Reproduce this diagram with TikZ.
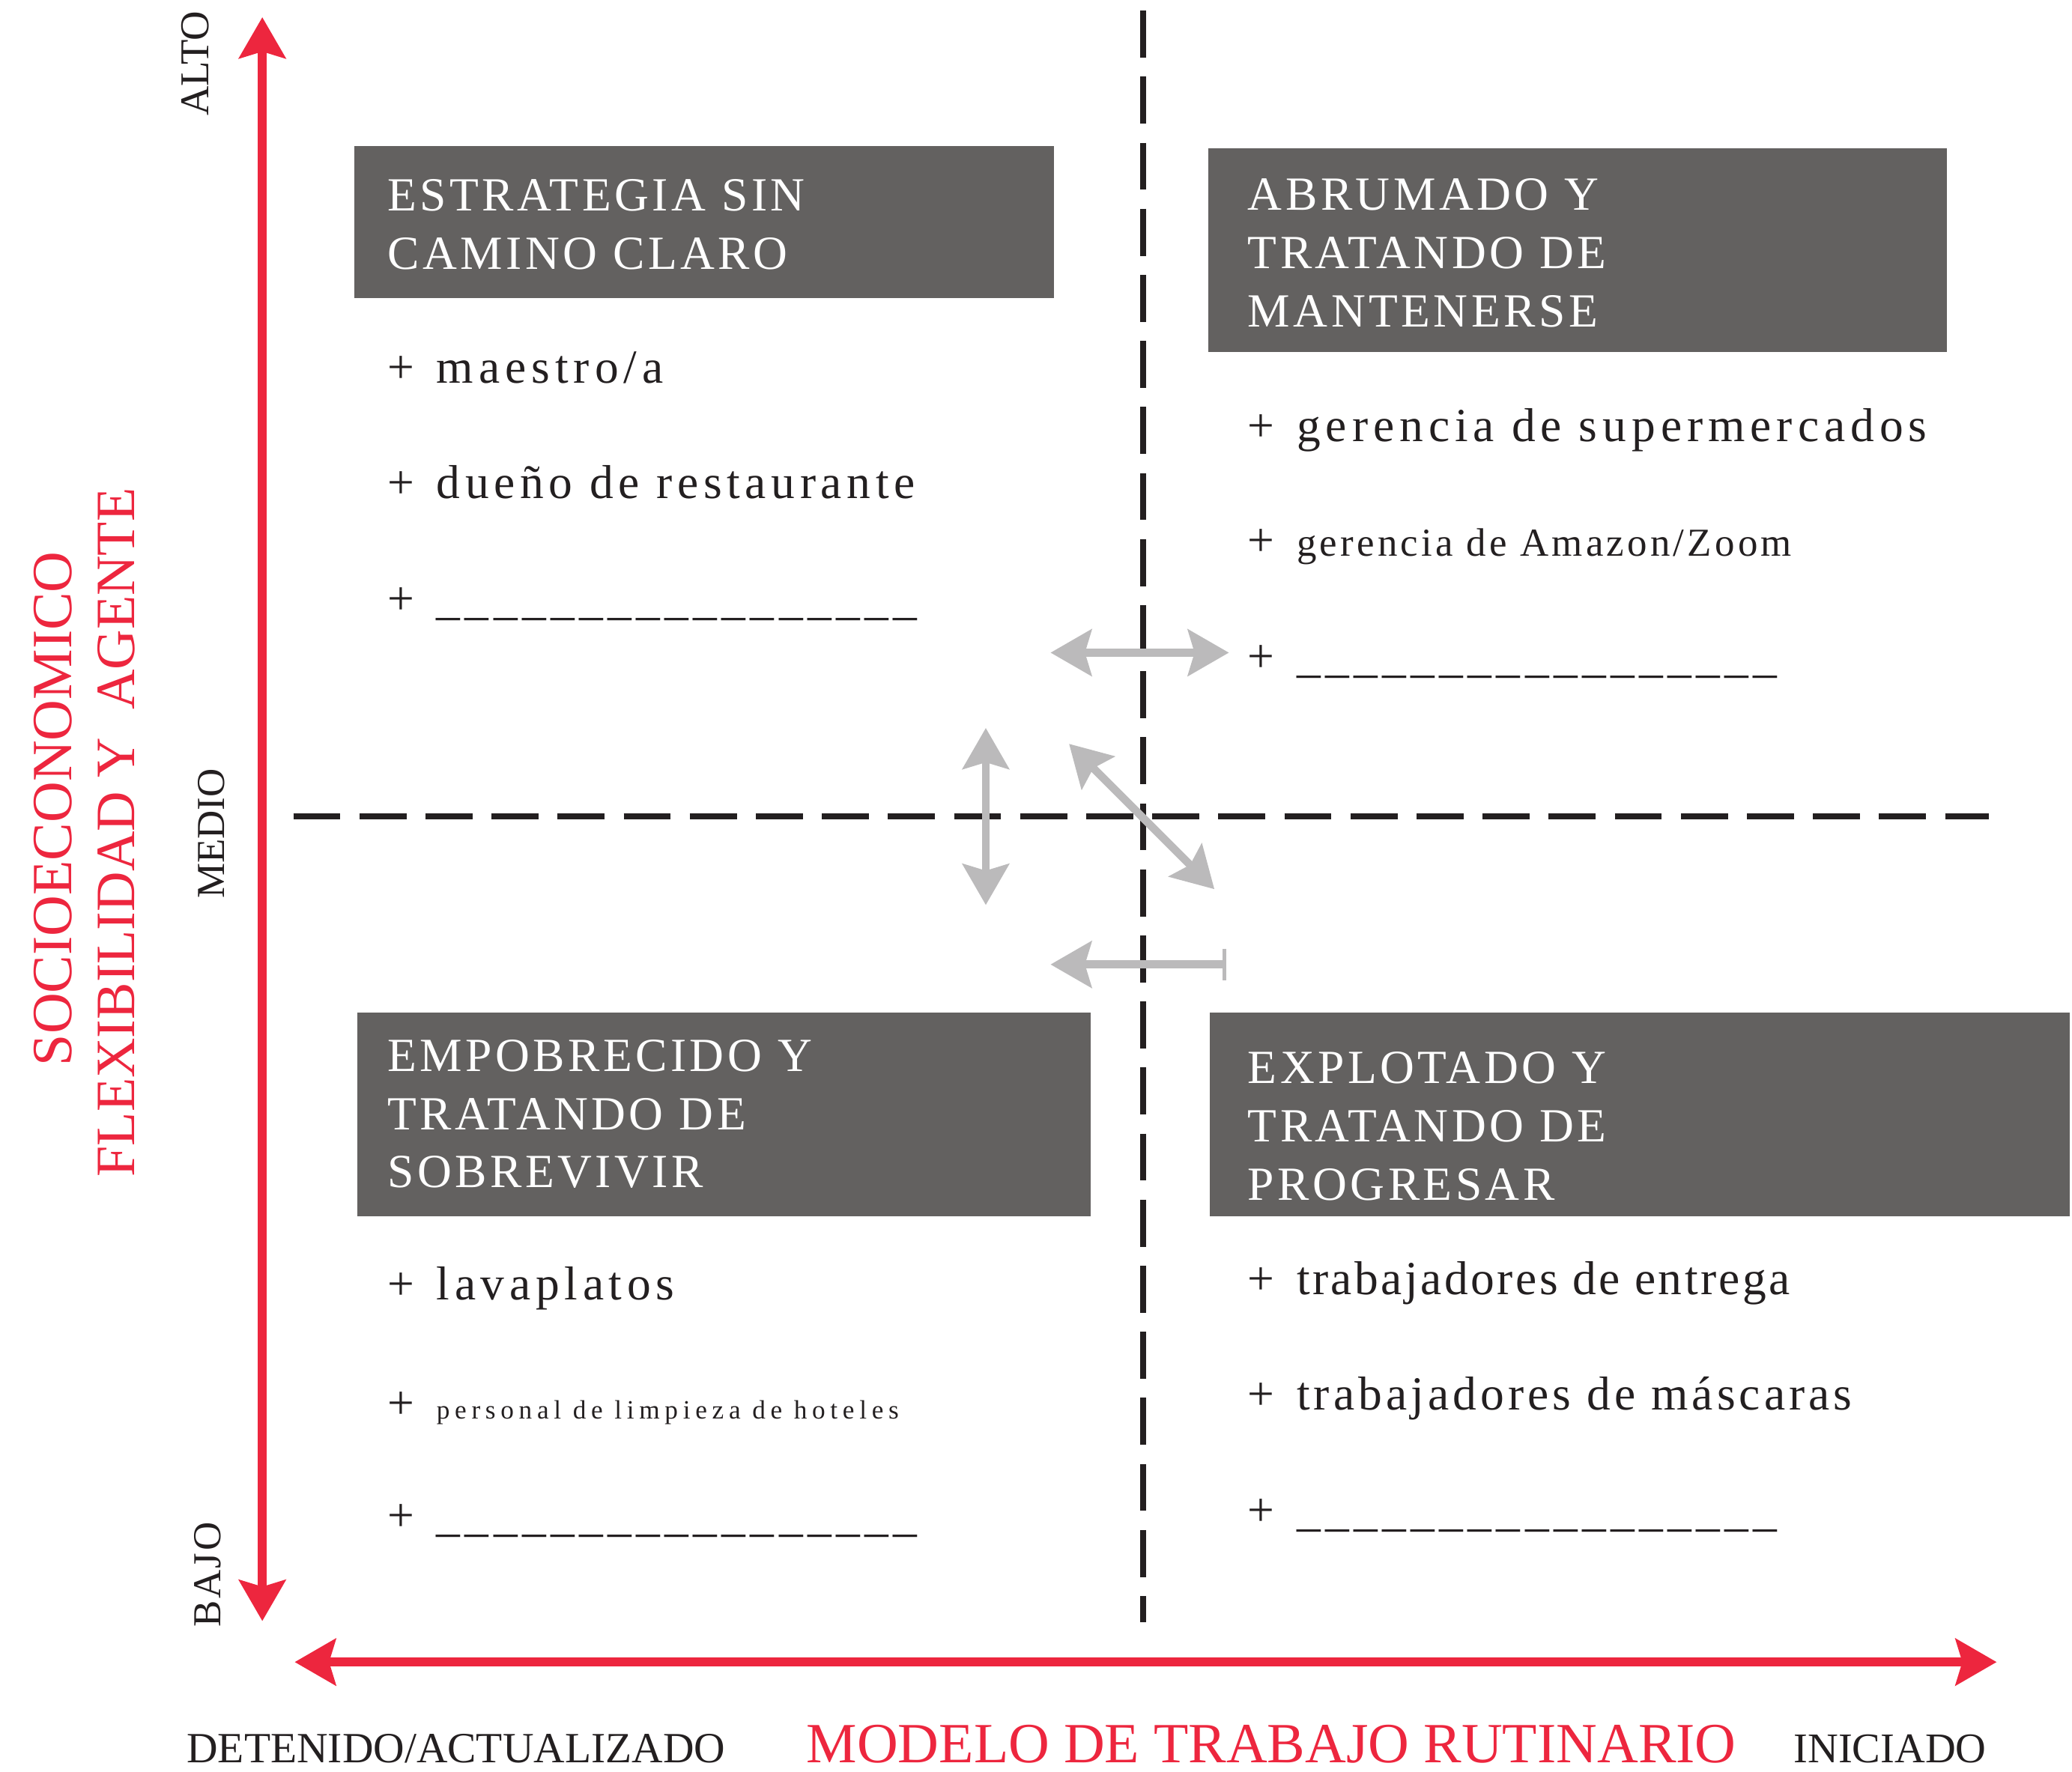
\documentclass[tikz,border=0pt]{standalone}
\usepackage{fontspec}
\setmainfont{Liberation Serif}
\newfontfamily\boxfont[LetterSpace=7]{Liberation Serif}
\newfontfamily\listfont[LetterSpace=10.5]{Liberation Serif}
\usetikzlibrary{arrows.meta}
\definecolor{axisred}{RGB}{237,38,62}
\definecolor{boxgray}{RGB}{99,97,96}
\definecolor{movegray}{RGB}{187,186,187}
\definecolor{inkblack}{RGB}{35,31,32}
\newcommand\listentry[1]{\makebox[18.5pt][l]{+}#1}
\newcommand\blankline{\_\_\_\_\_\_\_\_\_\_\_\_\_\_\_\_\_}
\begin{document}
\begin{tikzpicture}[x=0.5pt,y=-0.5pt,
    >={Stealth[length=15.5pt,width=17.5pt,inset=2.5pt]},
    quadbox/.style={fill=boxgray,text=white,anchor=north west,inner sep=0pt,align=left,
      font=\boxfont\fontsize{18}{22}\selectfont},
    entrytext/.style={anchor=base west,inner sep=0pt,text=inkblack,
      font=\listfont\fontsize{18}{22}\selectfont},
    sidelabel/.style={rotate=90,anchor=base,inner sep=0pt},
    divider/.style={inkblack,line width=2.4pt,dash pattern=on 17.8pt off 7.2pt},
    redaxis/.style={axisred,line width=3.4pt},
    movearrow/.style={movegray,line width=3pt}]
  \useasboundingbox (0,0) rectangle (1568,1341);

  % axes
  \draw[redaxis,<->] (198.5,13) -- (198.5,1227);
  \draw[redaxis,<->] (223,1258) -- (1511,1258);
  \draw[divider] (865,8) -- (865,1228);
  \draw[divider] (222,618) -- (1505,618);

  % movement arrows
  \draw[movearrow,<->] (795,494) -- (930,494);
  \draw[movearrow,<->] (746,551) -- (746,685);
  \draw[movearrow,<->] (809,563) -- (919,673);
  \draw[movearrow,{Bar[width=12pt,line width=1.4pt]}->] (928,730) -- (795,730);

  % axis labels
  \node[sidelabel,text=inkblack,font=\fontsize{15.5}{18}\selectfont] (alto) at (158,48) {ALTO};
  \node[sidelabel,text=inkblack,font=\fontsize{15}{18}\selectfont] (medio) at (170,631) {MEDIO};
  \node[sidelabel,text=inkblack,font=\fontsize{15}{18}\selectfont\addfontfeature{LetterSpace=5}] (bajo) at (167,1192) {BAJO};
  \node[sidelabel,text=axisred,font=\fontsize{21.5}{26}\selectfont] (socio) at (54,612) {SOCIOECONOMICO};
  \node[sidelabel,text=axisred,font=\fontsize{21}{26}\selectfont] (flex) at (102,630) {FLEXIBILIDAD Y\ \ AGENTE};
  \node[anchor=base west,inner sep=0pt,text=inkblack,font=\fontsize{16.3}{19}\selectfont] (detenido) at (141,1334) {DETENIDO/ACTUALIZADO};
  \node[anchor=base west,inner sep=0pt,text=axisred,font=\fontsize{21.5}{26}\selectfont] (modelo) at (610,1334) {MODELO DE TRABAJO RUTINARIO};
  \node[anchor=base west,inner sep=0pt,text=inkblack,font=\fontsize{16}{19}\selectfont] (iniciado) at (1357,1334) {INICIADO};

  % quadrant titles
  \node[quadbox,minimum width=264.5pt,minimum height=57.5pt,text width=239.5pt] (estrategia) at (268,110)
    {\rule{0pt}{14pt}ESTRATEGIA SIN\\CAMINO CLARO};
  \node[quadbox,minimum width=279.5pt,minimum height=77pt,text width=249.5pt] (abrumado) at (914,112)
    {\rule{0pt}{14pt}ABRUMADO Y\\TRATANDO DE\\MANTENERSE};
  \node[quadbox,minimum width=277.5pt,minimum height=77pt,text width=254.5pt] (empobrecido) at (270,766)
    {EMPOBRECIDO Y\\TRATANDO DE\\SOBREVIVIR};
  \node[quadbox,minimum width=325.5pt,minimum height=77pt,text width=296.5pt] (explotado) at (915,766)
    {\rule{0pt}{21pt}EXPLOTADO Y\\TRATANDO DE\\PROGRESAR};

  % quadrant entries
  \node[entrytext] (maestro) at (293,290) {\listentry{\addfontfeature{LetterSpace=11}maestro/a}};
  \node[entrytext] (dueno) at (293,377) {\listentry{dueño de restaurante}};
  \node[entrytext] (blanka) at (293,465) {\listentry{\addfontfeature{LetterSpace=10}\blankline}};
  \node[entrytext] (supermercados) at (944,334) {\listentry{\addfontfeature{LetterSpace=11}gerencia de supermercados}};
  \node[entrytext] (amazon) at (944,421) {\listentry{\fontsize{15}{18}\selectfont\addfontfeature{LetterSpace=8}gerencia de Amazon/Zoom}};
  \node[entrytext] (blankb) at (944,509) {\listentry{\addfontfeature{LetterSpace=10}\blankline}};
  \node[entrytext] (lavaplatos) at (293,984) {\listentry{lavaplatos}};
  \node[entrytext] (limpieza) at (293,1074) {\listentry{\fontsize{10}{12}\selectfont\addfontfeature{LetterSpace=19}personal de limpieza de hoteles}};
  \node[entrytext] (blankc) at (293,1159) {\listentry{\addfontfeature{LetterSpace=10}\blankline}};
  \node[entrytext] (entrega) at (944,980) {\listentry{\addfontfeature{LetterSpace=5.5}trabajadores de entrega}};
  \node[entrytext] (mascaras) at (944,1067) {\listentry{\addfontfeature{LetterSpace=8}trabajadores de máscaras}};
  \node[entrytext] (blankd) at (944,1155) {\listentry{\addfontfeature{LetterSpace=10}\blankline}};
\end{tikzpicture}
\end{document}
